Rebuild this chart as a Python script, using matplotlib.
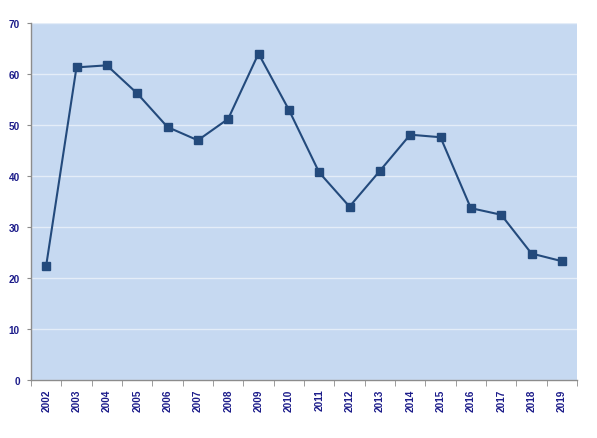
import numpy as np
import matplotlib.pyplot as plt
from matplotlib.font_manager import FontProperties

plt.rcParams.update({"font.family": ["Liberation Sans", "DejaVu Sans"],
                     "font.weight": "bold"})

years = ["2002", "2003", "2004", "2005", "2006", "2007", "2008", "2009", "2010",
         "2011", "2012", "2013", "2014", "2015", "2016", "2017", "2018", "2019"]
values = [22.4, 61.3, 61.7, 56.2, 49.6, 47.0, 51.2, 64.0, 53.0,
          40.7, 34.0, 41.0, 48.1, 47.6, 33.7, 32.4, 24.8, 23.3]
yticks = [0, 10, 20, 30, 40, 50, 60, 70]

label_color = "#1c1c8a"
line_color = "#234a7c"
axis_color = "#8c8c8c"
tick_font = FontProperties(family="Liberation Sans", weight="bold", size=7.2)

fig = plt.figure(figsize=(5.97, 4.39), dpi=100)
fig.patch.set_facecolor("white")
ax = fig.add_axes([31 / 597, 58 / 439, 546 / 597, 357 / 439])
ax.set_facecolor("#c6d9f1")

x = np.arange(len(years))
ax.plot(x, values, color=line_color, lw=1.5, marker="s", ms=5.5,
        markerfacecolor=line_color, markeredgecolor=line_color, zorder=3)

ax.set_xlim(-0.5, len(years) - 0.5)
ax.set_ylim(0, 70)
ax.set_yticks(yticks)
ax.set_yticklabels([str(t) for t in yticks])
ax.yaxis.grid(True, color="#e4edf8", lw=1.0)
ax.set_axisbelow(True)

# category labels in the middle, ticks on the boundaries
ax.set_xticks(x)
ax.set_xticklabels(years, rotation=90)
ax.tick_params(axis="x", which="major", length=0, pad=6)
ax.set_xticks(np.arange(-0.5, len(years), 1.0), minor=True)
ax.tick_params(axis="x", which="minor", length=4, color=axis_color, direction="out")
ax.tick_params(axis="y", length=3, color=axis_color, pad=5)
for lab in ax.get_xticklabels() + ax.get_yticklabels():
    lab.set_color(label_color)
    lab.set_fontproperties(tick_font)

for side in ["top", "right"]:
    ax.spines[side].set_visible(False)
for side in ["left", "bottom"]:
    ax.spines[side].set_color(axis_color)
    ax.spines[side].set_linewidth(1.0)

fig.savefig("out.png", dpi=100)
